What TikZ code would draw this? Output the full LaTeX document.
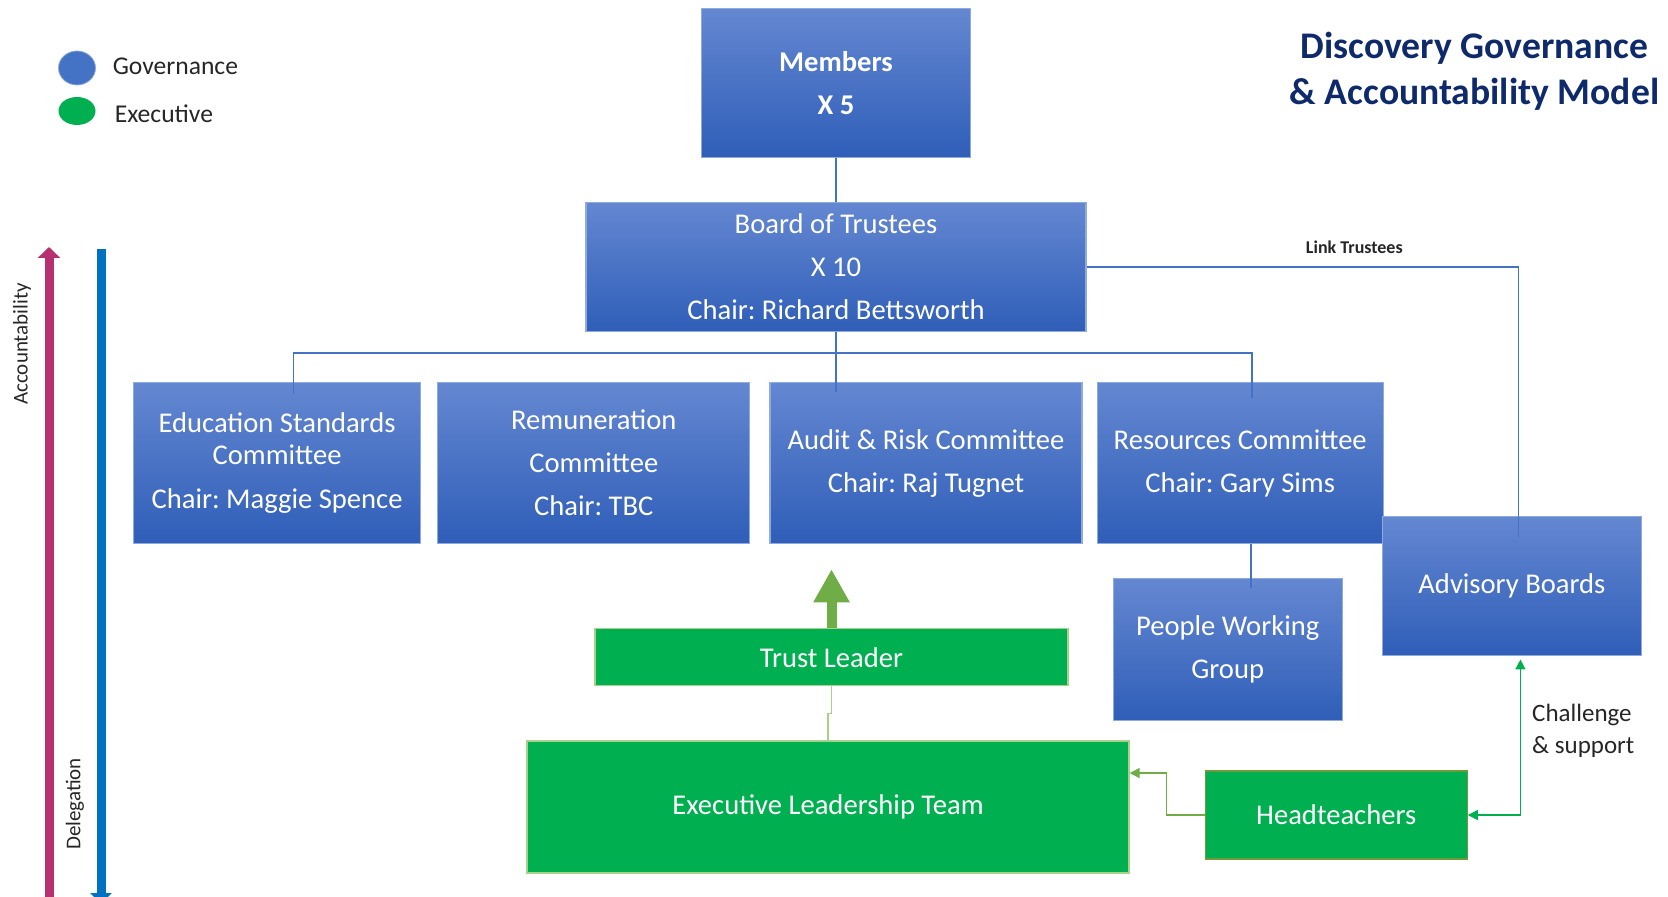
\documentclass[tikz,border=0pt]{standalone}
\usepackage{fontspec}
\setmainfont{Carlito}
\usetikzlibrary{shapes,arrows.meta,positioning,calc}
\frenchspacing

\definecolor{govtop}{HTML}{6487D1}
\definecolor{govbot}{HTML}{2F5EB8}
\definecolor{govedge}{HTML}{8FAADC}
\definecolor{busblue}{HTML}{4472C4}
\definecolor{exgreen}{HTML}{00B050}
\definecolor{exlight}{HTML}{A9D18E}
\definecolor{exolive}{HTML}{70AD47}
\definecolor{exdark}{HTML}{6E9A3A}
\definecolor{accpink}{HTML}{B7306F}
\definecolor{delblue}{HTML}{0070C0}
\definecolor{titlenavy}{HTML}{0F2A6B}

\begin{document}
\begin{tikzpicture}[
    govbox/.style={rectangle, draw=govedge, line width=0.6pt, top color=govtop, bottom color=govbot, text=white, align=center, inner sep=0pt, font=\fontsize{14.3}{21.5}\selectfont},
    exbox/.style={rectangle, draw=#1, line width=0.6pt, fill=exgreen, text=white, align=center, inner sep=0pt, font=\fontsize{14.3}{21.5}\selectfont},
    exbox/.default=exlight,
    bus/.style={draw=busblue, line width=0.75pt},
    tip/.style={-{Triangle[length=5pt,width=5pt]}},
    lbl/.style={inner sep=0pt, text=black!85, align=left}
]
    \useasboundingbox (0,0) rectangle (834pt,-448.5pt);

    % Title and legend
    \node[text=titlenavy, align=center, font=\fontsize{18.8}{23}\selectfont\bfseries] (title) at (737.25pt,-35.5pt) {Discovery Governance\\\& Accountability Model};
    \node[ellipse, fill=busblue, draw=govedge, minimum width=18.5pt, minimum height=17pt, inner sep=0pt] (govdot) at (38.5pt,-34pt) {};
    \node[ellipse, fill=exgreen, minimum width=18.5pt, minimum height=14pt, inner sep=0pt] (exdot) at (38.5pt,-55.5pt) {};
    \node[lbl, font=\fontsize{12.8}{14}\selectfont, right=8.25pt of govdot, yshift=1pt] (govtxt) {Governance};
    \node[lbl, font=\fontsize{12.8}{14}\selectfont, right=9.25pt of exdot, yshift=-1.5pt] (extxt) {Executive};

    % Governance tree
    \node[govbox, minimum width=134.5pt, minimum height=74.25pt, font=\fontsize{14.3}{21.5}\selectfont\bfseries] (members) at (418pt,-41.5pt) {Members\\X 5};
    \node[govbox, below=22pt of members, minimum width=250pt, minimum height=64.5pt] (board) {Board of Trustees\\X 10\\Chair: Richard Bettsworth};
    \node[govbox, below=25pt of board, xshift=45pt, minimum width=156pt, minimum height=80.5pt] (audit) {Audit \& Risk Committee\\Chair: Raj Tugnet};
    \node[govbox, left=9.5pt of audit, minimum width=156pt, minimum height=80.5pt] (remun) {Remuneration\\Committee\\Chair: TBC};
    \node[govbox, left=8pt of remun, minimum width=143.5pt, minimum height=80.5pt, font=\fontsize{14.3}{16}\selectfont] (educ) {Education Standards\\Committee\\[5.75pt]Chair: Maggie Spence};
    \node[govbox, right=7pt of audit, minimum width=143pt, minimum height=80.5pt] (res) {Resources Committee\\Chair: Gary Sims};
    \node[govbox, below right=-14pt and -1pt of res, minimum width=129.5pt, minimum height=69.5pt] (adv) {Advisory Boards};
    \node[govbox, below=17pt of res, xshift=-6.25pt, minimum width=114.5pt, minimum height=71pt] (pwg) {People Working\\Group};

    % Executive side
    \node[exbox, below=42pt of audit, xshift=-47.25pt, minimum width=236.5pt, minimum height=28.5pt] (trust) {Trust Leader};
    \node[exbox, below=27pt of trust, xshift=-1.75pt, minimum width=301pt, minimum height=66pt] (elt) {Executive Leadership Team};
    \node[exbox=exdark, right=37.5pt of elt, yshift=-4pt, minimum width=131pt, minimum height=44pt] (head) {Headteachers};

    % Governance lines
    \coordinate (bus) at ($(board.south)+(0,-10.5pt)$);
    \draw[bus] (members) -- (board);
    \draw[bus] (board.south) -- ($(board.south |- audit.north)+(0,-5pt)$);
    \draw[bus] ($(educ.north)+(8.25pt,-6pt)$) |- (bus) -| ($(res.north)+(6pt,-8pt)$);
    \draw[bus] (board.east) -| ($(adv.north)+(3.25pt,-10.5pt)$)
        node[pos=0.31, above=3pt, font=\fontsize{9}{11}\selectfont\bfseries, text=black!85] {Link Trustees};
    \draw[bus] ($(res.south)+(5.5pt,0)$) -- ($(res.south |- pwg.north)+(5.5pt,-5pt)$);

    % Executive lines
    \draw[exolive, line width=5pt, -{Triangle[length=16.5pt,width=17pt]}, shorten >=12.5pt] (trust.north) -- (trust.north |- audit.south);
    \draw[exlight, line width=0.75pt] (trust.south) -- ++(0,-13.5pt) -| (elt.north);
    \draw[exolive, line width=0.75pt, tip] (head.west) -- ++(-19pt,0) |- ($(elt.east)+(0,17pt)$);
    \draw[exgreen, line width=0.75pt, {Triangle[length=5pt,width=5pt]}-{Triangle[length=5pt,width=5pt]}] ($(adv.south)+(4.25pt,-1.5pt)$) |- (head.east)
        node[pos=0.23, right=5.5pt, lbl, font=\fontsize{12.5}{16}\selectfont] {Challenge\\\& support};

    % Accountability / delegation
    \coordinate (accbot) at (24.5pt,-449pt);
    \coordinate (acctop) at (24.5pt,-123.5pt);
    \draw[accpink, line width=4.5pt, -{Triangle[length=5.5pt,width=11pt]}] (accbot) -- (acctop);
    \node[rotate=90, font=\fontsize{10.5}{12}\selectfont, text=black!85] (acclbl) at (11pt,-172pt) {Accountability};
    \coordinate (deltop) at (50.5pt,-124.5pt);
    \coordinate (delbot) at (50.5pt,-452pt);
    \draw[delblue, line width=4.5pt, -{Triangle[length=5.5pt,width=10.5pt]}] (deltop) -- (delbot);
    \node[rotate=90, font=\fontsize{10.5}{12}\selectfont, text=black!85] (dellbl) at (37.5pt,-402pt) {Delegation};
\end{tikzpicture}
\end{document}
